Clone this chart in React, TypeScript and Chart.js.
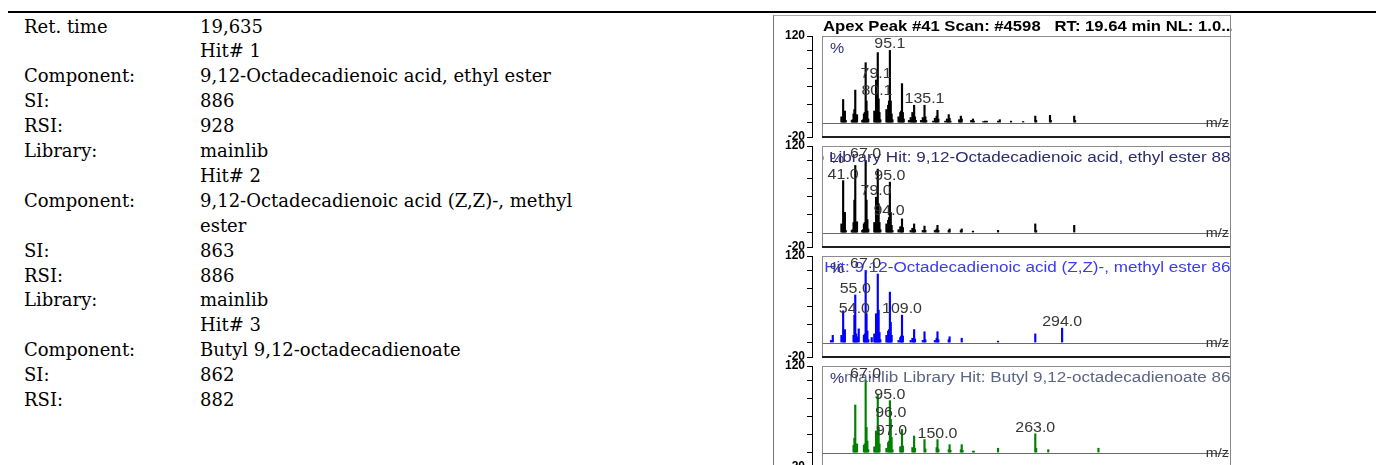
import React, { useEffect, useRef } from "react";
import { Chart, registerables } from "chart.js";

Chart.register(...registerables);

// ---------- Left table (text) ----------
const ROW_LABELS = ["Ret. time", "", "Component:", "SI:", "RSI:", "Library:", "", "Component:", "", "SI:", "RSI:", "Library:", "", "Component:", "SI:", "RSI:"];
const ROW_VALUES = ["19,635", "Hit# 1", "9,12-Octadecadienoic acid, ethyl ester", "886", "928", "mainlib", "Hit# 2", "9,12-Octadecadienoic acid (Z,Z)-, methyl", "ester", "863", "886", "mainlib", "Hit# 3", "Butyl 9,12-octadecadienoate", "862", "882"];

// ---------- Spectrum panels ----------
const SCAN_TITLE = "Apex Peak #41 Scan: #4598   RT: 19.64 min NL: 1.0...";
const HIT_TITLES = [
  "",
  "mainlib Library Hit: 9,12-Octadecadienoic acid, ethyl ester 886",
  "mainlib Library Hit: 9,12-Octadecadienoic acid (Z,Z)-, methyl ester 863",
  "mainlib Library Hit: Butyl 9,12-octadecadienoate 862",
];
const MZ_MIN = 5;
const MZ_MAX = 488;
const Y_MIN = -20;
const Y_MAX = 120;
const Y_TICKS = [-20, 0, 25, 50, 75, 100, 120];

// [m/z, relative intensity %]
const EXP_PEAKS = [
  [39, 8], [40, 3], [41, 32], [42, 9], [43, 16], [44, 3],
  [51, 3], [52, 4], [53, 12], [54, 18], [55, 45], [56, 10], [57, 11],
  [63, 3], [64, 4], [65, 12], [66, 14], [67, 83], [68, 30], [69, 16], [70, 5],
  [77, 16], [78, 10], [79, 59], [80, 35], [81, 97], [82, 33], [83, 14], [84, 4],
  [91, 18], [92, 8], [93, 24], [94, 30], [95, 100], [96, 30], [97, 12], [98, 4],
  [105, 8], [106, 4], [107, 14], [108, 16], [109, 54], [110, 14], [111, 5],
  [117, 3], [119, 7], [120, 4], [121, 14], [122, 10], [123, 24], [124, 8], [125, 3],
  [131, 3], [133, 7], [134, 4], [135, 24], [136, 8], [137, 3],
  [145, 2], [147, 6], [148, 3], [149, 9], [150, 17], [151, 5],
  [159, 2], [161, 5], [162, 3], [163, 11], [164, 6], [165, 2],
  [175, 4], [176, 2], [177, 9], [178, 5],
  [189, 3], [191, 5], [192, 2],
  [203, 1.5], [205, 2], [207, 2], [220, 2], [222, 4], [235, 2], [249, 1.5],
  [263, 9], [264, 3], [280, 10], [281, 3], [308, 9], [309, 3],
];
const EXP_LABELS = [[95, "95.1"], [79, "79.1"], [80, "80.1"], [135, "135.1"]];

const HIT1_PEAKS = [
  [39, 12], [40, 3], [41, 72], [42, 12], [43, 28], [44, 3],
  [51, 3], [52, 4], [53, 14], [54, 45], [55, 93], [56, 14], [57, 15],
  [63, 3], [64, 4], [65, 12], [66, 14], [67, 100], [68, 45], [69, 18], [70, 5],
  [77, 14], [78, 10], [79, 49], [80, 25], [81, 88], [82, 40], [83, 14], [84, 4],
  [91, 12], [92, 5], [93, 17], [94, 21], [95, 70], [96, 28], [97, 10], [98, 3],
  [105, 4], [107, 8], [108, 8], [109, 19], [110, 7],
  [119, 3], [121, 6], [122, 4], [123, 12], [124, 4],
  [133, 3], [135, 9], [136, 3],
  [147, 3], [149, 5], [150, 10], [151, 3],
  [163, 3], [164, 5], [177, 3], [178, 5], [191, 2], [220, 3],
  [263, 12], [264, 3], [308, 10],
];
const HIT1_LABELS = [[41, "41.0"], [67, "67.0"], [95, "95.0"], [79, "79.0"], [94, "94.0"]];

const HIT2_PEAKS = [
  [27, 3], [29, 10], [39, 10], [41, 44], [42, 8], [43, 18],
  [53, 10], [54, 38], [55, 66], [56, 12], [57, 8], [59, 19],
  [65, 10], [66, 12], [67, 100], [68, 40], [69, 16], [70, 4], [74, 7],
  [77, 12], [78, 6], [79, 40], [80, 22], [81, 95], [82, 45], [83, 14], [84, 4],
  [91, 10], [92, 4], [93, 16], [94, 18], [95, 70], [96, 28], [97, 10],
  [105, 3], [107, 7], [108, 9], [109, 38], [110, 9],
  [119, 3], [121, 6], [122, 4], [123, 18], [124, 5],
  [133, 3], [135, 15], [136, 4],
  [147, 3], [149, 6], [150, 15], [151, 4],
  [163, 4], [164, 8], [178, 6], [220, 2], [263, 12], [294, 20],
];
const HIT2_LABELS = [[67, "67.0"], [55, "55.0"], [54, "54.0"], [109, "109.0"], [294, "294.0"]];

const HIT3_PEAKS = [
  [53, 10], [54, 20], [55, 66], [56, 10], [57, 12],
  [65, 10], [66, 12], [67, 100], [68, 35], [69, 16], [70, 4],
  [77, 8], [78, 4], [79, 30], [80, 15], [81, 81], [82, 35], [83, 12],
  [91, 6], [93, 14], [94, 16], [95, 72], [96, 46], [97, 21], [98, 4],
  [107, 8], [108, 8], [109, 32], [110, 9],
  [121, 7], [122, 4], [123, 23], [124, 6],
  [135, 18], [136, 5],
  [149, 7], [150, 18], [151, 5],
  [163, 4], [164, 11], [165, 3], [177, 4], [178, 11], [179, 3],
  [191, 2], [192, 2], [220, 6], [263, 26], [264, 6], [278, 4], [336, 6],
];
const HIT3_LABELS = [[67, "67.0"], [95, "95.0"], [96, "96.0"], [97, "97.0"], [150, "150.0"], [263, "263.0"]];

const PANEL_PEAKS = [EXP_PEAKS, HIT1_PEAKS, HIT2_PEAKS, HIT3_PEAKS];
const PANEL_LABELS = [EXP_LABELS, HIT1_LABELS, HIT2_LABELS, HIT3_LABELS];
const PANEL_COLORS = ["#000000", "#000000", "#0000ff", "#008000"];
const TITLE_COLORS = ["#000000", "#2b2b6e", "#3b3bf0", "#5c6684"];

// ---------- layout ----------
const FONT = "'Liberation Sans', Arial, sans-serif";
const SERIF = "'DejaVu Serif', 'Liberation Serif', serif";
const PANEL_LEFT = 773;
const PANEL_W = 459;
const PANEL_H = 140;
const PANEL_PAD_TOP = 24;
const PANEL_TOPS = [36, 146, 256, 366];
const AXIS_W = 39;
const BOX_GAP = 10;

function drawText(ctx: CanvasRenderingContext2D, text: string, x: number, y: number, align: CanvasTextAlign, baseline: CanvasTextBaseline, font: string, color: string, stretch: number) {
  ctx.save();
  ctx.font = font;
  ctx.fillStyle = color;
  ctx.textAlign = align;
  ctx.textBaseline = baseline;
  ctx.translate(x, y);
  ctx.scale(stretch, 1);
  ctx.fillText(text, 0, 0);
  ctx.restore();
}

function makeDecor(idx: number) {
  return {
    id: "decor" + idx,
    beforeDatasetsDraw(chart: any) {
      const { ctx, chartArea: a, scales } = chart;
      const left = a.left + BOX_GAP;
      const y0 = Math.round(scales.y.getPixelForValue(0)) + 0.5;
      ctx.save();
      ctx.strokeStyle = "#6a6a6a";
      ctx.lineWidth = 1;
      ctx.beginPath();
      ctx.moveTo(left, y0);
      ctx.lineTo(a.right - 1, y0);
      ctx.stroke();
      ctx.restore();
    },
    afterDatasetsDraw(chart: any) {
      const { ctx, chartArea: a, scales } = chart;
      const left = a.left + BOX_GAP;
      const xs = scales.x;
      const ys = scales.y;
      // plot box
      ctx.save();
      ctx.strokeStyle = "#8c8c8c";
      ctx.lineWidth = 1;
      ctx.beginPath();
      ctx.moveTo(left, a.top + 0.5);
      ctx.lineTo(a.right, a.top + 0.5);
      ctx.moveTo(left + 0.5, a.top);
      ctx.lineTo(left + 0.5, a.bottom);
      ctx.stroke();
      ctx.strokeStyle = "#1e1e1e";
      ctx.lineWidth = 2;
      ctx.beginPath();
      ctx.moveTo(left, a.bottom);
      ctx.lineTo(a.right, a.bottom);
      ctx.stroke();
      ctx.restore();

      // titles
      if (idx === 0) {
        drawText(ctx, SCAN_TITLE, left + 1, a.top - 9, "left", "middle", "bold 14px " + FONT, "#000", 1.19);
      } else {
        ctx.save();
        ctx.beginPath();
        ctx.rect(left + 1, a.top + 1, a.right - left - 1, 20);
        ctx.clip();
        drawText(ctx, HIT_TITLES[idx], a.right + 10, a.top + 12, "right", "middle", "14px " + FONT, TITLE_COLORS[idx], 1.22);
        ctx.restore();
      }
      // % sign
      drawText(ctx, "%", left + 8, a.top + 13, "left", "middle", "14px " + FONT, "#33337a", 1.14);
      // m/z
      const y0 = ys.getPixelForValue(0);
      drawText(ctx, "m/z", a.right - 1, y0 + 1, "right", "middle", "12px " + FONT, "#333", 1.2);
      // peak labels
      const peaks = PANEL_PEAKS[idx];
      PANEL_LABELS[idx].forEach(([mz, txt]) => {
        const p = peaks.find((q) => q[0] === mz);
        if (!p) return;
        const px = xs.getPixelForValue(mz as number);
        const py = ys.getPixelForValue(p[1]);
        drawText(ctx, txt as string, px, py - 2, "center", "alphabetic", "14px " + FONT, "#363636", 1.14);
      });
    },
  };
}

function SpectrumPanel({ idx }: { idx: number }) {
  const ref = useRef<HTMLCanvasElement | null>(null);
  useEffect(() => {
    if (!ref.current) return;
    const peaks = PANEL_PEAKS[idx];
    const chart = new Chart(ref.current, {
      type: "bar",
      data: {
        datasets: [
          {
            data: peaks.map((p) => ({ x: p[0], y: p[1] })),
            backgroundColor: PANEL_COLORS[idx],
            borderWidth: 0,
            barThickness: 1.5,
            categoryPercentage: 1,
            barPercentage: 1,
          } as any,
        ],
      },
      options: {
        animation: false,
        responsive: false,
        maintainAspectRatio: false,
        devicePixelRatio: 1,
        events: [],
        layout: { padding: { top: PANEL_PAD_TOP, bottom: PANEL_H - PANEL_PAD_TOP - 101, left: 0, right: 2 } },
        plugins: { legend: { display: false }, tooltip: { enabled: false } },
        scales: {
          x: {
            type: "linear",
            min: MZ_MIN,
            max: MZ_MAX,
            offset: false,
            display: false,
            grid: { offset: false },
          },
          y: {
            type: "linear",
            min: Y_MIN,
            max: Y_MAX,
            afterBuildTicks: (scale: any) => {
              scale.ticks = Y_TICKS.map((v) => ({ value: v }));
            },
            afterFit: (scale: any) => {
              scale.width = AXIS_W;
            },
            ticks: {
              autoSkip: false,
              padding: 2,
              color: "#000",
              font: { family: FONT, size: 12, weight: "bold" },
              callback: (v: any) => (v === Y_MAX || v === Y_MIN ? String(v) : ""),
            },
            grid: { drawOnChartArea: false, drawTicks: true, tickLength: 5, color: "#000", lineWidth: 1 },
            border: { display: true, color: "#000", width: 1 },
          },
        },
      } as any,
      plugins: [makeDecor(idx)],
    });
    return () => chart.destroy();
  }, [idx]);
  return (
    <canvas
      ref={ref}
      width={PANEL_W}
      height={PANEL_H}
      style={{ position: "absolute", left: PANEL_LEFT, top: PANEL_TOPS[idx] - PANEL_PAD_TOP, width: PANEL_W, height: PANEL_H }}
    />
  );
}

const ROW_TOP = 27;
const ROW_H = 24.9;

export default function App() {
  return (
    <div style={{ position: "absolute", left: 0, top: 0, width: 1376, height: 465, overflow: "hidden", background: "#fff" }}>
      <div style={{ position: "absolute", left: 8, top: 11, width: 1368, height: 2, background: "#000" }} />
      {ROW_LABELS.map((lab, i) => (
        <div
          key={i}
          style={{
            position: "absolute",
            left: 0,
            top: ROW_TOP + i * ROW_H - ROW_H / 2,
            height: ROW_H,
            lineHeight: ROW_H + "px",
            fontFamily: SERIF,
            fontSize: 18,
            color: "#000",
            whiteSpace: "nowrap",
          }}
        >
          <span style={{ position: "absolute", left: 24 }}>{lab}</span>
          <span style={{ position: "absolute", left: 200 }}>{ROW_VALUES[i]}</span>
        </div>
      ))}
      <div
        style={{
          position: "absolute",
          left: PANEL_LEFT,
          top: 15,
          width: 1230 - PANEL_LEFT + 1,
          height: 460,
          boxSizing: "border-box",
          borderLeft: "1px solid #777",
          borderTop: "1px solid #aaa",
          borderRight: "1px solid #888",
        }}
      />
      {[0, 1, 2, 3].map((i) => (
        <SpectrumPanel key={i} idx={i} />
      ))}
    </div>
  );
}
